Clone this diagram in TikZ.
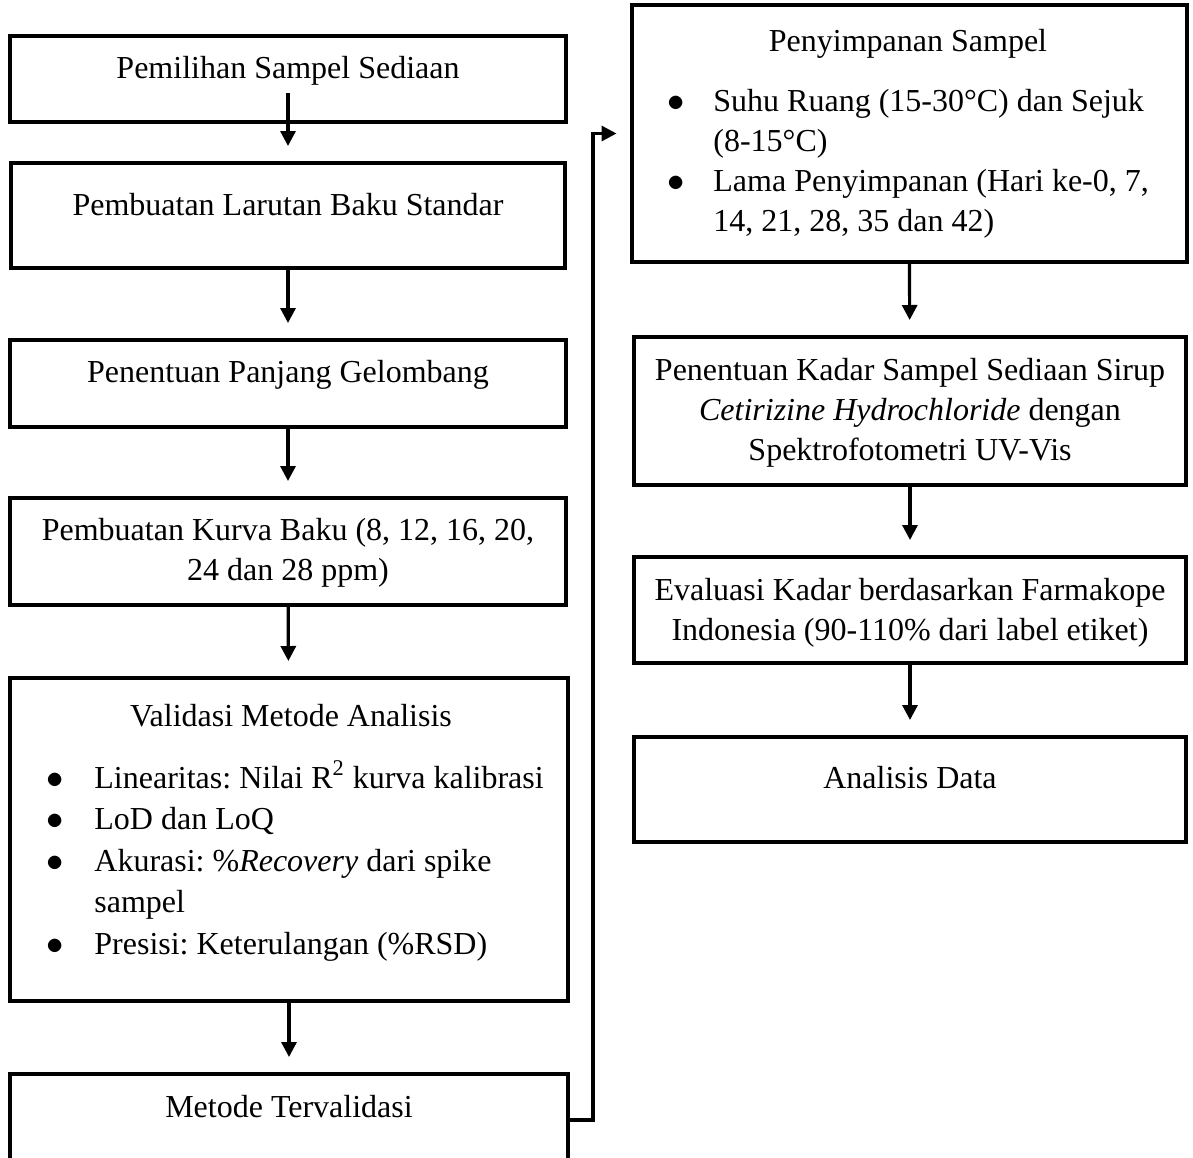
\documentclass[tikz,border=0pt]{standalone}
\usepackage{fontspec}
\setmainfont{Liberation Serif}
\usetikzlibrary{arrows.meta}
\frenchspacing

\begin{document}
\begin{tikzpicture}[x=0.5pt, y=-0.5pt,
      every node/.style={font=\fontsize{16}{20}\selectfont},
      box/.style={rectangle, draw=black, line width=2pt, inner sep=0pt},
      txt/.style={inner sep=0pt, align=center, anchor=base},
      lst/.style={inner sep=0pt, anchor=base west},
      flow/.style={line width=1.6pt, -{Triangle[length=7.5pt, width=7.5pt]}, shorten >=7.5pt}
  ]
    \useasboundingbox (0,0) rectangle (1193,1157);
    \clip (0,0) rectangle (1193,1157);

    % left column
    \node[box, minimum width=278pt, minimum height=43pt] (pilih) at (288,79) {};
    \node[box, minimum width=277pt, minimum height=52.5pt] (baku) at (288,215.5) {};
    \node[box, minimum width=278pt, minimum height=43.5pt] (gelombang) at (288,383.5) {};
    \node[box, minimum width=278pt, minimum height=53.5pt] (kurva) at (288,551.5) {};
    \node[box, minimum width=279pt, minimum height=161.5pt] (validasi) at (289,839.5) {};
    \node[box, minimum width=279pt, minimum height=46pt] (valid) at (289,1120) {};

    % multi-line texts sit on their last baseline
    \node[txt] (pilihT) at (288,78) {Pemilihan Sampel Sediaan};
    \node[txt] (bakuT) at (288,215) {Pembuatan Larutan Baku Standar};
    \node[txt] (gelombangT) at (288,382) {Penentuan Panjang Gelombang};
    \node[txt] (kurvaT) at (288,580) {Pembuatan Kurva Baku (8, 12, 16, 20,\\24 dan 28 ppm)};
    \node[txt] (validasiT) at (291,726) {Validasi Metode Analisis};
    \node[lst] (validasiL) at (46,788) {\def\arraystretch{1.04}%
      \begin{tabular}[t]{@{}p{24pt}@{}l@{}}
        $\bullet$ & Linearitas: Nilai R\textsuperscript{2} kurva kalibrasi\\
        $\bullet$ & LoD dan LoQ\\
        $\bullet$ & Akurasi: \%\textit{Recovery} dari spike\\
                  & sampel\\
        $\bullet$ & Presisi: Keterulangan (\%RSD)
      \end{tabular}};
    \node[txt] (validT) at (289,1117) {Metode Tervalidasi};

    % right column
    \node[box, minimum width=277.5pt, minimum height=128.5pt] (simpan) at (909,133.5) {};
    \node[box, minimum width=276pt, minimum height=74pt] (kadar) at (910,411) {};
    \node[box, minimum width=276pt, minimum height=53pt] (evaluasi) at (910,610) {};
    \node[box, minimum width=276pt, minimum height=52.5pt] (data) at (910,789.5) {};

    \node[txt] (simpanT) at (908,51) {Penyimpanan Sampel};
    \node[lst] (simpanL) at (667,111) {%
      \begin{tabular}[t]{@{}p{23pt}@{}l@{}}
        $\bullet$ & Suhu Ruang (15-30°C) dan Sejuk\\
                  & (8-15°C)\\
        $\bullet$ & Lama Penyimpanan (Hari ke-0, 7,\\
                  & 14, 21, 28, 35 dan 42)
      \end{tabular}};
    \node[txt] (kadarT) at (910,460) {Penentuan Kadar Sampel Sediaan Sirup\\\textit{Cetirizine Hydrochloride} dengan\\Spektrofotometri UV-Vis};
    \node[txt] (evaluasiT) at (910,640) {Evaluasi Kadar berdasarkan Farmakope\\Indonesia (90-110\% dari label etiket)};
    \node[txt] (dataT) at (910,788) {Analisis Data};

    % arrows
    \draw[flow] ([yshift=15.5pt]pilih.south) -- (baku.north);
    \draw[flow] (baku) -- (gelombang);
    \draw[flow] (gelombang) -- (kurva);
    \draw[flow] (kurva) -- (validasi);
    \draw[flow] (validasi) -- (valid);
    \draw[flow, shorten >=6.5pt] (valid.east) -- ++(23,0) |- (simpan.west);
    \draw[flow] (simpan) -- (kadar);
    \draw[flow] (kadar) -- (evaluasi);
    \draw[flow] (evaluasi) -- (data);
  \end{tikzpicture}
\end{document}
